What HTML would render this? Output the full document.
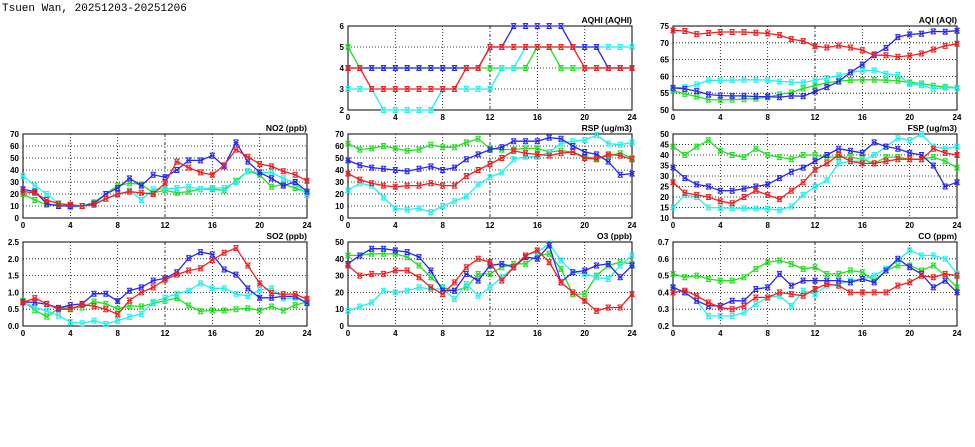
<!DOCTYPE html>
<html><head><meta charset="utf-8"><style>
html,body{margin:0;padding:0;background:#fff;width:975px;height:447px;overflow:hidden}
svg{display:block}
text{font-family:"Liberation Sans",sans-serif}
</style></head><body>
<svg id="chart" width="975" height="447" xmlns="http://www.w3.org/2000/svg">
<text x="2" y="11" style="font-family:'Liberation Mono',monospace;font-size:11px" fill="#000">Tsuen Wan, 20251203-20251206</text>
</svg>
<script>
const hours=[0,1,2,3,4,5,6,7,8,9,10,11,12,13,14,15,16,17,18,19,20,21,22,23,24];
const xTicks=[0,4,8,12,16,20,24];
const seriesColors=["#22e022","#22f0f0","#2828f0","#f02020"];
const seriesNames=["green","cyan","blue","red"];

const aqhiGreen=[5,4,4,4,4,4,4,4,4,4,4,4,4,4,4,4,5,5,4,4,4,4,4,4,4];
const aqhiCyan=[3,3,3,2,2,2,2,2,3,3,3,3,3,4,4,5,5,5,5,5,5,5,5,5,5];
const aqhiBlue=[4,4,4,4,4,4,4,4,4,4,4,4,5,5,6,6,6,6,6,5,5,5,4,4,4];
const aqhiRed=[4,4,3,3,3,3,3,3,3,3,4,4,5,5,5,5,5,5,5,5,4,4,4,4,4];
const aqhiTicks=[2,3,4,5,6];

const aqiGreen=[55.8,54.8,54.0,53.1,53.0,53.1,53.2,53.4,53.8,54.6,55.2,56.4,57.3,58.1,58.6,58.9,59.0,59.0,58.9,58.7,58.2,57.9,57.2,56.9,56.6];
const aqiCyan=[56.5,56.8,57.6,58.8,58.8,58.9,59.0,59.0,58.9,58.5,58.3,58.2,58.8,59.5,60.3,61.2,61.7,61.8,60.8,60.4,57.8,57.4,56.3,56.7,56.5];
const aqiBlue=[56.6,56.3,55.6,54.6,54.3,54.2,54.2,54.0,54.0,53.8,54.2,54.1,55.5,56.8,58.5,61.2,63.5,66.5,68.5,71.7,72.5,72.7,73.4,73.3,73.6];
const aqiRed=[73.7,73.5,72.6,72.9,73.2,73.2,73.2,73.0,72.8,72.3,71.1,70.5,69.0,68.6,69.2,68.6,67.8,66.3,66.3,65.8,66.2,66.8,68.0,69.1,69.7];
const aqiTicks=[50,55,60,65,70,75];

const no2Green=[20,15,11,11,11,10,13,20,27,29,28,21,23,21,22,24,24,23,31,39,36,26,28,25,21];
const no2Cyan=[35,27,20,12,9,10,12,16,19,23,15,24,24,25,26,24,25,25,30,39,38,38,33,29,19];
const no2Blue=[24,22,12,10,10,10,12,20,25,33,27,36,34,40,48,48,52,43,63,47,38,33,27,30,22];
const no2Red=[22,21,15,12,11,10,11,16,20,22,21,20,29,47,42,38,36,44,57,51,45,43,39,36,31];
const no2Ticks=[0,10,20,30,40,50,60,70];

const rspGreen=[62,57,58,60,58,56,57,61,59,59,63,66,58,57,57,58,58,55,56,55,51,50,52,54,50];
const rspCyan=[23,29,27,17,8,7,8,5,10,14,18,28,34,38,49,51,51,55,62,64,65,69,62,61,63];
const rspBlue=[48,44,42,41,40,39,41,43,40,42,49,53,57,59,64,64,64,67,66,60,55,53,47,36,37];
const rspRed=[37,32,29,27,26,27,27,29,27,27,35,40,45,50,56,54,53,52,54,55,50,49,53,52,49];
const rspTicks=[0,10,20,30,40,50,60,70];

const fspGreen=[44,40,44,47,42,40,39,43,40,39,38,40,40,39,39,39,38,36,39,39,38,38,39,37,34];
const fspCyan=[15,21,20,15,14.8,14.7,14.6,14.5,14.4,13.7,15.5,21,25,28,36,37,37,40,44,48,47,50,44,43,44];
const fspBlue=[34,29,26,25,23,23,24,25,26,29,32,34,37,40,43,42,41,46,44,43,41,40,35,25,27];
const fspRed=[27,22,21,20,18,17,20,23,21,19,23,27,33,36,40,37,36,36,37,38,38,38,43,41,40];
const fspTicks=[10,15,20,25,30,35,40,45,50];

const so2Green=[0.75,0.47,0.28,0.52,0.55,0.55,0.73,0.66,0.51,0.60,0.58,0.68,0.75,0.83,0.61,0.44,0.46,0.46,0.5,0.53,0.46,0.58,0.46,0.62,0.72];
const so2Cyan=[0.72,0.55,0.45,0.31,0.12,0.08,0.16,0.06,0.16,0.27,0.36,0.72,0.84,0.96,1.05,1.27,1.12,1.12,0.96,0.89,1.08,1.12,0.82,0.84,0.7];
const so2Blue=[0.72,0.70,0.65,0.54,0.62,0.66,0.96,0.96,0.74,1.05,1.15,1.35,1.42,1.6,2.02,2.2,2.13,1.68,1.53,1.12,0.84,0.84,0.88,0.88,0.68];
const so2Red=[0.70,0.83,0.66,0.50,0.50,0.64,0.59,0.50,0.35,0.76,1.00,1.15,1.38,1.53,1.65,1.72,1.96,2.18,2.32,1.8,1.27,0.98,0.95,0.95,0.80];
const so2Ticks=[0,0.5,1,1.5,2,2.5];

const o3Green=[42,42,43,43,43,41,36,29,23,21,23,31,31,35,37,37,42,43,34,19,19,30,36,38,37];
const o3Cyan=[9,11.5,14,21,20,21,23,22,22,16,25,18,23,29,35,42,44,49,39,32,31,29,28,36,42];
const o3Blue=[37,42,46,46,45,44,41,33,21,21,31,27,36,37,35,41,40,48,26,32,33,36,37,29,36];
const o3Red=[36,30,31,31,33,33,29,23,19,26,35,40,38,27,35,42,45,38,26,20,15,9,11,11,19];
const o3Ticks=[0,10,20,30,40,50];

const coGreen=[0.51,0.49,0.50,0.48,0.47,0.47,0.49,0.54,0.58,0.59,0.57,0.54,0.55,0.51,0.51,0.53,0.52,0.47,0.53,0.56,0.56,0.53,0.56,0.50,0.43];
const coCyan=[0.43,0.40,0.35,0.26,0.26,0.26,0.28,0.33,0.37,0.38,0.32,0.41,0.39,0.44,0.45,0.47,0.48,0.50,0.54,0.59,0.65,0.62,0.62,0.60,0.51];
const coBlue=[0.43,0.40,0.35,0.32,0.32,0.35,0.35,0.42,0.43,0.51,0.44,0.47,0.47,0.47,0.47,0.46,0.48,0.46,0.53,0.60,0.55,0.51,0.43,0.47,0.40];
const coRed=[0.40,0.41,0.38,0.34,0.31,0.30,0.32,0.37,0.37,0.40,0.39,0.38,0.42,0.45,0.44,0.40,0.40,0.40,0.40,0.44,0.46,0.50,0.49,0.51,0.50];
const coTicks=[0.2,0.3,0.4,0.5,0.6,0.7];

const svg=document.getElementById('chart');
const NS='http://www.w3.org/2000/svg';
function mk(tag,attrs,parent){const e=document.createElementNS(NS,tag);for(const k in attrs)e.setAttribute(k,attrs[k]);parent.appendChild(e);return e;}

function panel(id,title,L,T,series,ticks,dec){
  const R=L+284,B=T+84;
  const g=mk('g',{},svg);
  
  
  const y0=ticks[0],y1=ticks[ticks.length-1];
  const xs=v=>L+(v-0)/24*(R-L);
  const ys=v=>B-(v-y0)/(y1-y0)*(B-T);
  ticks.forEach(t=>{
    const y=ys(t);
    if(t!==y0&&t!==y1){const gl=mk('line',{x1:L,x2:R,y1:y,y2:y,stroke:'#000','stroke-width':0.8,'stroke-dasharray':'1,2'},g);
      
      }
    const tx=mk('text',{x:L-4,y:y+3,'font-size':8,'font-weight':'bold','text-anchor':'end',fill:'#000'},g);
    
    
    tx.textContent=dec?t.toFixed(1):String(t);
  });
  xTicks.forEach(t=>{
    const x=xs(t);
    if(t!==0&&t!==24){const gl=mk('line',{x1:x,x2:x,y1:T,y2:B,stroke:'#000','stroke-width':0.8,'stroke-dasharray':t===12?'3,2,1,2':'1,2'},g);
      
      }
    const tx=mk('text',{x:x,y:B+10,'font-size':8,'font-weight':'bold','text-anchor':'middle',fill:'#000'},g);
    
    
    tx.textContent=String(t);
  });
  const fr=mk('rect',{x:L,y:T,width:R-L,height:B-T,fill:'none',stroke:'#000','stroke-width':1},g);
  
  
  const tt=mk('text',{x:R,y:T-3,'font-size':8.5,'font-weight':'bold','text-anchor':'end',fill:'#000'},g);
  
  
  tt.textContent=title;
  series.forEach((vals,si)=>{
    const c=seriesColors[si];
    const pts=vals.map((v,i)=>xs(hours[i]).toFixed(1)+','+ys(v).toFixed(1)).join(' ');
    const pl=mk('polyline',{points:pts,fill:'none',stroke:c,'stroke-width':1.3},g);
    
    
    vals.forEach((v,i)=>{
      const x=xs(hours[i]),y=ys(v);
      const m=mk('path',{d:`M${x-2.5},${y-2.5}L${x+2.5},${y+2.5}M${x-2.5},${y+2.5}L${x+2.5},${y-2.5}M${x-2.5},${y}L${x+2.5},${y}M${x-2.5},${y-2.5}L${x+2.5},${y-2.5}M${x-2.5},${y+2.5}L${x+2.5},${y+2.5}`,stroke:c,'stroke-width':1},g);
      
      
    });
  });
}
panel('aqhi','AQHI (AQHI)',348,26,[aqhiGreen,aqhiCyan,aqhiBlue,aqhiRed],aqhiTicks,false);
panel('aqi','AQI (AQI)',673,26,[aqiGreen,aqiCyan,aqiBlue,aqiRed],aqiTicks,false);
panel('no2','NO2 (ppb)',23,134,[no2Green,no2Cyan,no2Blue,no2Red],no2Ticks,false);
panel('rsp','RSP (ug/m3)',348,134,[rspGreen,rspCyan,rspBlue,rspRed],rspTicks,false);
panel('fsp','FSP (ug/m3)',673,134,[fspGreen,fspCyan,fspBlue,fspRed],fspTicks,false);
panel('so2','SO2 (ppb)',23,242,[so2Green,so2Cyan,so2Blue,so2Red],so2Ticks,true);
panel('o3','O3 (ppb)',348,242,[o3Green,o3Cyan,o3Blue,o3Red],o3Ticks,false);
panel('co','CO (ppm)',673,242,[coGreen,coCyan,coBlue,coRed],coTicks,true);
</script>
</body></html>
